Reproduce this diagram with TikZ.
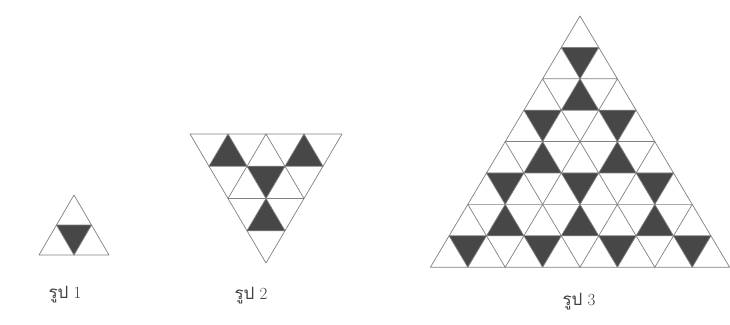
\documentclass[tikz,border=0pt]{standalone}
\usepackage{fontspec}
\newfontfamily\thaifont[Script=Thai]{Loma}
\begin{document}
\begin{tikzpicture}[x=1pt, y=1pt,
  cell/.style={draw=black!50, line width=0.7pt, line join=round},
  dark/.style={fill=black!72},
  figlabel/.style={font=\fontsize{17}{20}\selectfont, text=black!75}
]
\useasboundingbox (0,0) rectangle (730,324);

\begin{scope}[shift={(74,129)}, x=35pt, y=30pt]
  \fill[dark] (-0.5,-1) -- (0.5,-1) -- (0,-2) -- cycle;
  \foreach \k in {1,2} \foreach \i in {1,...,\k}
    \draw[cell] ({\i-(\k+1)/2},{1-\k}) -- ++(0.5,-1) -- ++(-1,0) -- cycle;
\end{scope}

\begin{scope}[shift={(266,61)}, x=38pt, y=-32.25pt]
  \foreach \k/\c in {4/-1,4/1,2/0}
    \fill[dark] ({\c-0.5},{1-\k}) -- ({\c+0.5},{1-\k}) -- (\c,-\k) -- cycle;
  \fill[dark] (0,-2) -- (-0.5,-3) -- (0.5,-3) -- cycle;
  \foreach \k in {1,...,4} \foreach \i in {1,...,\k}
    \draw[cell] ({\i-(\k+1)/2},{1-\k}) -- ++(0.5,-1) -- ++(-1,0) -- cycle;
\end{scope}

\begin{scope}[shift={(580,308)}, x=37.4pt, y=31.4pt]
  \foreach \k/\c in {2/0,4/-1,4/1,6/-2,6/0,6/2,8/-3,8/-1,8/1,8/3}
    \fill[dark] ({\c-0.5},{1-\k}) -- ({\c+0.5},{1-\k}) -- (\c,-\k) -- cycle;
  \foreach \k/\c in {3/0,5/-1,5/1,7/-2,7/0,7/2}
    \fill[dark] (\c,{1-\k}) -- ({\c-0.5},-\k) -- ({\c+0.5},-\k) -- cycle;
  \foreach \k in {1,...,8} \foreach \i in {1,...,\k}
    \draw[cell] ({\i-(\k+1)/2},{1-\k}) -- ++(0.5,-1) -- ++(-1,0) -- cycle;
\end{scope}

\node[figlabel] (fig1) at (65,29) {{\thaifont รูป} 1};
\node[figlabel] (fig2) at (251,28) {{\thaifont รูป} 2};
\node[figlabel] (fig3) at (579,22) {{\thaifont รูป} 3};
\end{tikzpicture}
\end{document}
